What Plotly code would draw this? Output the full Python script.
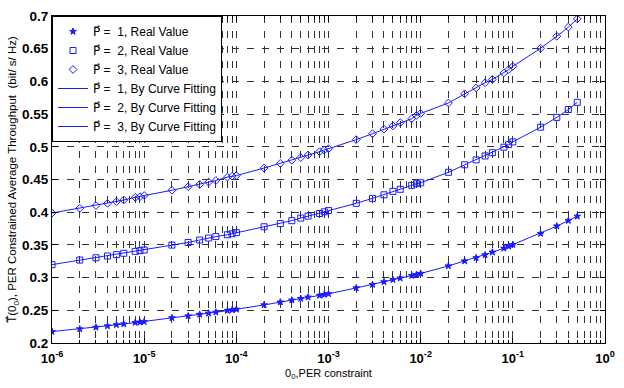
import plotly.graph_objects as go

# PER constraint values (x)
per = [1e-6, 2e-6, 3e-6, 4e-6, 5e-6, 6e-6, 8e-6, 9e-6,
       1e-5, 2e-5, 3e-5, 4e-5, 5e-5, 6e-5, 8e-5, 9e-5,
       1e-4, 2e-4, 3e-4, 4e-4, 5e-4, 6e-4, 8e-4, 9e-4,
       1e-3, 2e-3, 3e-3, 4e-3, 5e-3, 6e-3, 8e-3, 9e-3,
       1e-2, 2e-2, 3e-2, 4e-2, 5e-2, 6e-2, 8e-2, 9e-2,
       0.1, 0.2, 0.3, 0.4, 0.5]

thr_p1 = [0.2175, 0.2215, 0.2240, 0.2260, 0.2278, 0.2290, 0.2312, 0.2318,
          0.2325, 0.2385, 0.2413, 0.2437, 0.2455, 0.2470, 0.2495, 0.2505,
          0.2515, 0.2582, 0.2625, 0.2655, 0.2680, 0.2700, 0.2727, 0.2740,
          0.2752, 0.2842, 0.2893, 0.2935, 0.2968, 0.2992, 0.3030, 0.3047,
          0.3063, 0.3178, 0.3253, 0.3302, 0.3347, 0.3388, 0.3448, 0.3478,
          0.3503, 0.3672, 0.3787, 0.3871, 0.3937]

thr_p2 = [0.3198, 0.3268, 0.3303, 0.3330, 0.3351, 0.3372, 0.3401, 0.3412,
          0.3422, 0.3497, 0.3537, 0.3575, 0.3605, 0.3627, 0.3655, 0.3670,
          0.3687, 0.3777, 0.3826, 0.3870, 0.3910, 0.3940, 0.3980, 0.4005,
          0.4025, 0.4136, 0.4211, 0.4266, 0.4318, 0.4350, 0.4410, 0.4436,
          0.4450, 0.4610, 0.4725, 0.4800, 0.4860, 0.4910, 0.4994, 0.5034,
          0.5075, 0.5300, 0.5450, 0.5570, 0.5680]

thr_p3 = [0.3987, 0.4061, 0.4102, 0.4136, 0.4160, 0.4186, 0.4226, 0.4237,
          0.4255, 0.4335, 0.4390, 0.4425, 0.4460, 0.4485, 0.4536, 0.4550,
          0.4560, 0.4675, 0.4746, 0.4795, 0.4835, 0.4874, 0.4925, 0.4950,
          0.4970, 0.5110, 0.5200, 0.5270, 0.5320, 0.5370, 0.5430, 0.5480,
          0.5510, 0.5670, 0.5810, 0.5900, 0.5980, 0.6030, 0.6130, 0.6180,
          0.6230, 0.6506, 0.6690, 0.6830, 0.6955]

P_ARROW = "<span style='font-family:DejaVu Sans'>P\u20d7</span>"
T_ARROW = "<span style='font-family:DejaVu Sans'>T\u20d7</span>"

series_vals = [thr_p1, thr_p2, thr_p3]
series_markers = ["star", "square-open", "diamond-open"]
series_sizes = [5, 6, 6]
series_names_real = [P_ARROW + " =  1, Real Value", P_ARROW + " =  2, Real Value",
                     P_ARROW + " =  3, Real Value"]
series_names_fit = [P_ARROW + " =  1, By Curve Fitting", P_ARROW + " =  2, By Curve Fitting",
                    P_ARROW + " =  3, By Curve Fitting"]

x_tickvals = [1e-6, 1e-5, 1e-4, 1e-3, 1e-2, 1e-1, 1e0]
x_ticktext = ["<b>10<sup>-6</sup></b>", "<b>10<sup>-5</sup></b>", "<b>10<sup>-4</sup></b>",
              "<b>10<sup>-3</sup></b>", "<b>10<sup>-2</sup></b>", "<b>10<sup>-1</sup></b>",
              "<b>10<sup>0</sup></b>"]
y_tickvals = [0.2, 0.25, 0.3, 0.35, 0.4, 0.45, 0.5, 0.55, 0.6, 0.65, 0.7]
y_ticktext = ["<b>0.2</b>", "<b>0.25</b>", "<b>0.3</b>", "<b>0.35</b>", "<b>0.4</b>", "<b>0.45</b>",
              "<b>0.5</b>", "<b>0.55</b>", "<b>0.6</b>", "<b>0.65</b>", "<b>0.7</b>"]
x_minor = [m * 10 ** e for e in range(-6, 0) for m in range(2, 10)]

BLUE = "#1a1aff"

fig = go.Figure()
for vals, sym, sz, name in zip(series_vals, series_markers, series_sizes, series_names_real):
    fig.add_trace(go.Scatter(x=per, y=vals, mode="markers", name=name,
                             marker=dict(symbol=sym, size=sz, color=BLUE,
                                         line=dict(color=BLUE, width=1))))
for vals, name in zip(series_vals, series_names_fit):
    fig.add_trace(go.Scatter(x=per, y=vals, mode="lines", name=name,
                             line=dict(color=BLUE, width=1)))

grid_kw = dict(gridcolor="#333333", gridwidth=1, griddash="7px,8px")

fig.update_layout(
    width=624, height=388,
    margin=dict(l=52, r=9, t=9, b=45),
    paper_bgcolor="white", plot_bgcolor="white",
    font=dict(family="Liberation Sans, Arial, sans-serif", color="black", size=11),
    showlegend=True,
    legend=dict(x=0, y=1, xanchor="left", yanchor="top",
                bgcolor="white", bordercolor="black", borderwidth=1,
                font=dict(size=12, family="Liberation Sans, Arial, sans-serif"),
                tracegroupgap=0, itemwidth=30),
)
fig.update_xaxes(
    type="log", range=[-6, 0],
    tickmode="array", tickvals=x_tickvals, ticktext=x_ticktext,
    tickfont=dict(size=13, family="Liberation Sans Narrow, Liberation Sans, Arial"),
    ticklabelstandoff=3,
    ticks="inside", ticklen=5, tickcolor="black",
    showline=True, linecolor="black", linewidth=1, mirror="allticks",
    showgrid=True, **grid_kw,
    minor=dict(tickmode="array", tickvals=x_minor, ticks="inside", ticklen=3,
               tickcolor="black", showgrid=True, **grid_kw),
    zeroline=False,
    title=dict(text="0<sub>0</sub>,PER constraint", font=dict(size=11), standoff=4),
)
fig.update_yaxes(
    range=[0.2, 0.7],
    tickmode="array", tickvals=y_tickvals, ticktext=y_ticktext,
    tickfont=dict(size=13.5, family="Liberation Sans Narrow, Liberation Sans, Arial"),
    ticks="inside", ticklen=5, tickcolor="black",
    showline=True, linecolor="black", linewidth=1, mirror="allticks",
    showgrid=True, **grid_kw,
    zeroline=False,
    title=dict(text=T_ARROW + "(0<sub>0</sub>), PER Constrained Average Throughput  (bit/ s/ Hz)",
               font=dict(size=11.5), standoff=2),
)

fig.write_html("out.html")
